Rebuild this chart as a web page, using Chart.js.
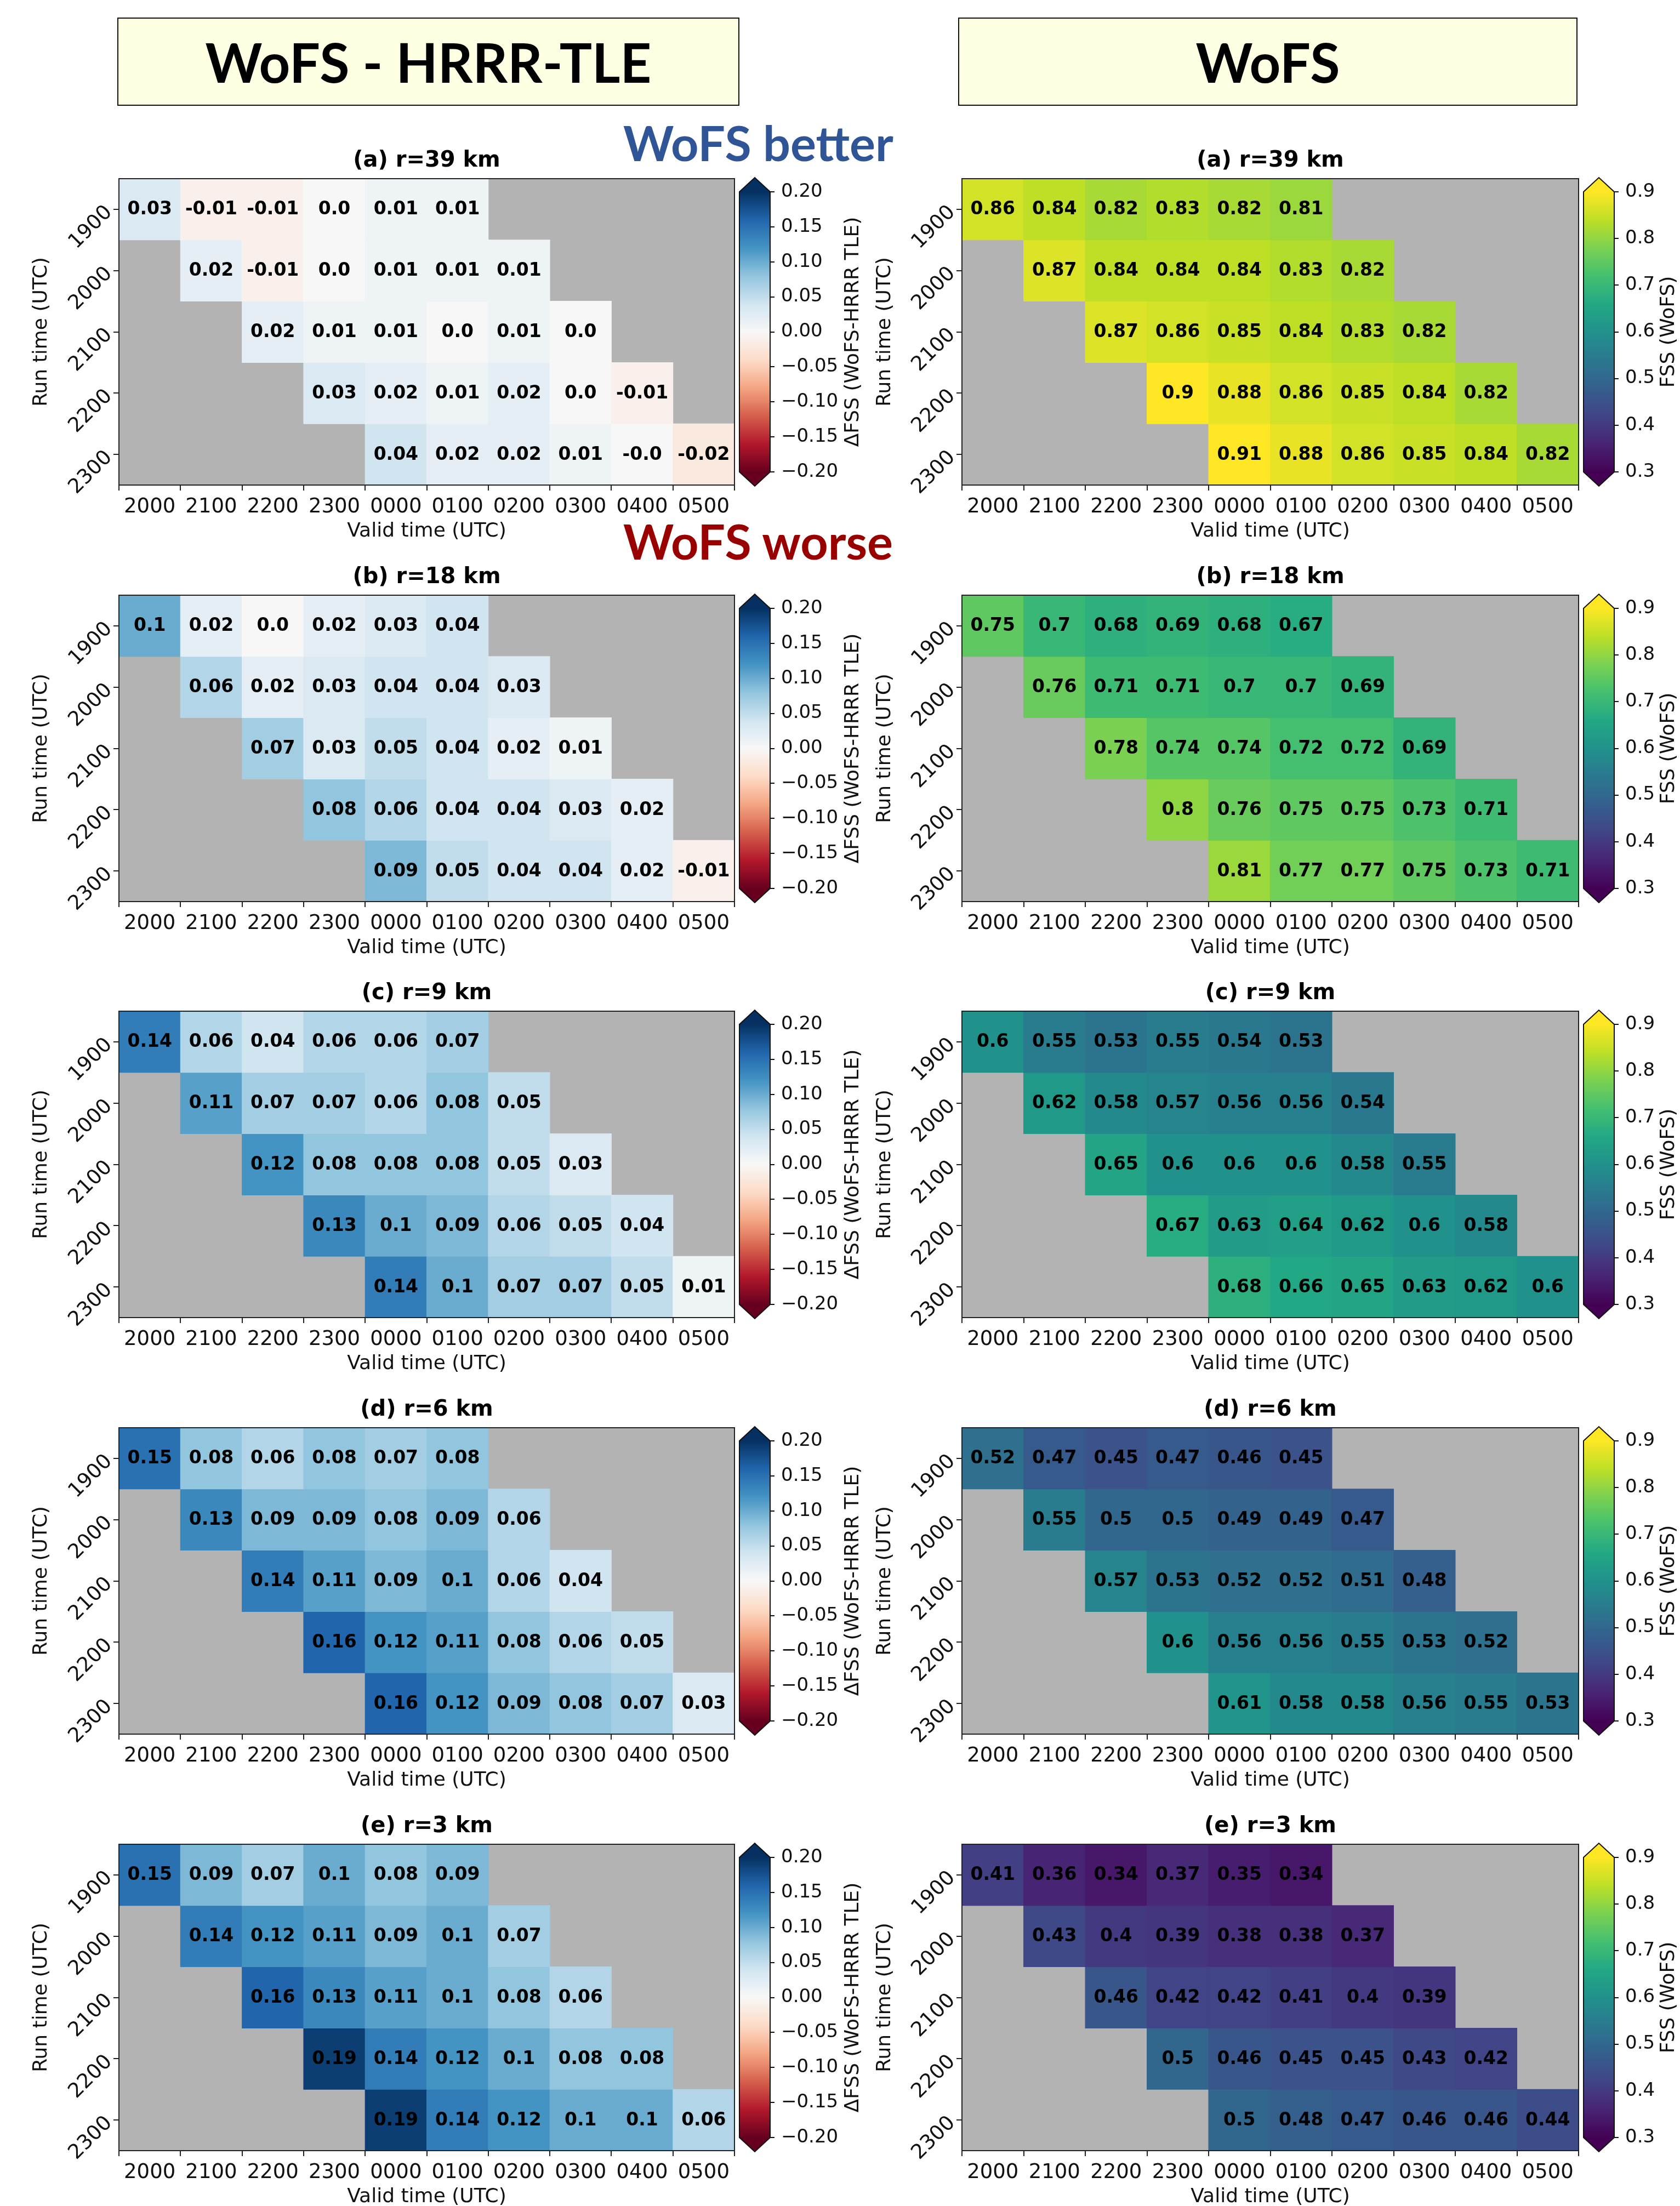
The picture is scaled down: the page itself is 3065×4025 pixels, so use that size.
<!DOCTYPE html>
<html>
<head>
<meta charset="utf-8">
<script src="https://cdn.jsdelivr.net/npm/chart.js@4.4.1/dist/chart.umd.min.js"></script>
<style>
	body { margin: 0; background: #fff; width: 3065px; height: 4025px; position: relative; overflow: hidden; }
	.header { position: absolute; top: 32px; height: 161px; box-sizing: border-box; border: 2px solid #111; background: #ffffe3;
		display: flex; align-items: center; justify-content: center; font-family: Lato, sans-serif; font-weight: bold; font-size: 99px; color: #000; }
	.note { position: absolute; font-family: Lato, sans-serif; font-weight: bold; font-size: 88px; line-height: 1; white-space: nowrap; }
	.holder { position: absolute; }
	.holder canvas { display: block; }
</style>
</head>
<body>
<div class="header" style="left:214px;width:1135px;">WoFS - HRRR-TLE</div>
<div class="header" style="left:1748px;width:1130px;">WoFS</div>
<div class="note" style="left:1137px;top:216px;color:#2f5597;">WoFS better</div>
<div class="note" style="left:1137px;top:943px;color:#990000;">WoFS worse</div>

<script>
var validTimes = ["2000", "2100", "2200", "2300", "0000", "0100", "0200", "0300", "0400", "0500"];
var runTimes = ["1900", "2000", "2100", "2200", "2300"];
var panelTitles = ["(a) r=39 km", "(b) r=18 km", "(c) r=9 km", "(d) r=6 km", "(e) r=3 km"];

// WoFS - HRRR-TLE, each run time row starts one valid time later
var dfss39 = [
	[0.03, -0.01, -0.01, 0.0, 0.01, 0.01],
	[0.02, -0.01, 0.0, 0.01, 0.01, 0.01],
	[0.02, 0.01, 0.01, 0.0, 0.01, 0.0],
	[0.03, 0.02, 0.01, 0.02, 0.0, -0.01],
	[0.04, 0.02, 0.02, 0.01, -0.0, -0.02]
];
var dfss18 = [
	[0.1, 0.02, 0.0, 0.02, 0.03, 0.04],
	[0.06, 0.02, 0.03, 0.04, 0.04, 0.03],
	[0.07, 0.03, 0.05, 0.04, 0.02, 0.01],
	[0.08, 0.06, 0.04, 0.04, 0.03, 0.02],
	[0.09, 0.05, 0.04, 0.04, 0.02, -0.01]
];
var dfss9 = [
	[0.14, 0.06, 0.04, 0.06, 0.06, 0.07],
	[0.11, 0.07, 0.07, 0.06, 0.08, 0.05],
	[0.12, 0.08, 0.08, 0.08, 0.05, 0.03],
	[0.13, 0.1, 0.09, 0.06, 0.05, 0.04],
	[0.14, 0.1, 0.07, 0.07, 0.05, 0.01]
];
var dfss6 = [
	[0.15, 0.08, 0.06, 0.08, 0.07, 0.08],
	[0.13, 0.09, 0.09, 0.08, 0.09, 0.06],
	[0.14, 0.11, 0.09, 0.1, 0.06, 0.04],
	[0.16, 0.12, 0.11, 0.08, 0.06, 0.05],
	[0.16, 0.12, 0.09, 0.08, 0.07, 0.03]
];
var dfss3 = [
	[0.15, 0.09, 0.07, 0.1, 0.08, 0.09],
	[0.14, 0.12, 0.11, 0.09, 0.1, 0.07],
	[0.16, 0.13, 0.11, 0.1, 0.08, 0.06],
	[0.19, 0.14, 0.12, 0.1, 0.08, 0.08],
	[0.19, 0.14, 0.12, 0.1, 0.1, 0.06]
];

// WoFS FSS
var fss39 = [
	[0.86, 0.84, 0.82, 0.83, 0.82, 0.81],
	[0.87, 0.84, 0.84, 0.84, 0.83, 0.82],
	[0.87, 0.86, 0.85, 0.84, 0.83, 0.82],
	[0.9, 0.88, 0.86, 0.85, 0.84, 0.82],
	[0.91, 0.88, 0.86, 0.85, 0.84, 0.82]
];
var fss18 = [
	[0.75, 0.7, 0.68, 0.69, 0.68, 0.67],
	[0.76, 0.71, 0.71, 0.7, 0.7, 0.69],
	[0.78, 0.74, 0.74, 0.72, 0.72, 0.69],
	[0.8, 0.76, 0.75, 0.75, 0.73, 0.71],
	[0.81, 0.77, 0.77, 0.75, 0.73, 0.71]
];
var fss9 = [
	[0.6, 0.55, 0.53, 0.55, 0.54, 0.53],
	[0.62, 0.58, 0.57, 0.56, 0.56, 0.54],
	[0.65, 0.6, 0.6, 0.6, 0.58, 0.55],
	[0.67, 0.63, 0.64, 0.62, 0.6, 0.58],
	[0.68, 0.66, 0.65, 0.63, 0.62, 0.6]
];
var fss6 = [
	[0.52, 0.47, 0.45, 0.47, 0.46, 0.45],
	[0.55, 0.5, 0.5, 0.49, 0.49, 0.47],
	[0.57, 0.53, 0.52, 0.52, 0.51, 0.48],
	[0.6, 0.56, 0.56, 0.55, 0.53, 0.52],
	[0.61, 0.58, 0.58, 0.56, 0.55, 0.53]
];
var fss3 = [
	[0.41, 0.36, 0.34, 0.37, 0.35, 0.34],
	[0.43, 0.4, 0.39, 0.38, 0.38, 0.37],
	[0.46, 0.42, 0.42, 0.41, 0.4, 0.39],
	[0.5, 0.46, 0.45, 0.45, 0.43, 0.42],
	[0.5, 0.48, 0.47, 0.46, 0.46, 0.44]
];

var dfssTicks = [-0.2, -0.15, -0.1, -0.05, 0, 0.05, 0.1, 0.15, 0.2];
var fssTicks = [0.3, 0.4, 0.5, 0.6, 0.7, 0.8, 0.9];

var dfssPanels = [dfss39, dfss18, dfss9, dfss6, dfss3];
var fssPanels = [fss39, fss18, fss9, fss6, fss3];

// colormaps (matplotlib RdBu and viridis anchor colours)
var rdbuStops = ["#67001f", "#b2182b", "#d6604d", "#f4a582", "#fddbc7", "#f7f7f7", "#d1e5f0", "#92c5de", "#4393c3", "#2166ac", "#053061"];
var viridisStops = ["#440154", "#482475", "#414487", "#355f8d", "#2a788e", "#21918c", "#22a884", "#44bf70", "#7ad151", "#bddf26", "#fde725"];

function hexRgb(h) {
	return [parseInt(h.substr(1, 2), 16), parseInt(h.substr(3, 2), 16), parseInt(h.substr(5, 2), 16)];
}
function makeCmap(stops) {
	var rgb = stops.map(hexRgb);
	return function (t) {
		t = Math.max(0, Math.min(1, t));
		var p = t * (rgb.length - 1);
		var i = Math.min(Math.floor(p), rgb.length - 2);
		var f = p - i;
		var c = [0, 1, 2].map(function (k) { return Math.round(rgb[i][k] + (rgb[i + 1][k] - rgb[i][k]) * f); });
		return "rgb(" + c.join(",") + ")";
	};
}
var rdbu = makeCmap(rdbuStops);
var viridis = makeCmap(viridisStops);

function fmt(v) {
	var s = String(Math.abs(v));
	if (s.indexOf(".") < 0) s += ".0";
	return (v < 0 || Object.is(v, -0) ? "-" : "") + s;
}

Chart.defaults.font.family = "'DejaVu Sans', sans-serif";
Chart.defaults.color = "#111";

var FONT_TICK = 37;
var FONT_LABEL = 36;
var FONT_CBAR = 34;

// draw gray background, cell numbers and the frame
var heatPlugin = {
	id: "heat",
	beforeDatasetsDraw: function (chart) {
		var a = chart.chartArea, ctx = chart.ctx;
		ctx.save();
		ctx.fillStyle = "#b3b3b3";
		ctx.fillRect(a.left, a.top, a.right - a.left, a.bottom - a.top);
		ctx.restore();
	},
	afterDatasetsDraw: function (chart) {
		var ctx = chart.ctx, a = chart.chartArea;
		ctx.save();
		ctx.font = "bold 33px 'DejaVu Sans'";
		ctx.fillStyle = "#000";
		ctx.textAlign = "center";
		ctx.textBaseline = "middle";
		chart.data.datasets.forEach(function (ds, i) {
			var meta = chart.getDatasetMeta(i);
			ds.cellValues.forEach(function (v, k) {
				var bar = meta.data[i + k];
				ctx.fillText(fmt(v), bar.x, (bar.y + bar.base) / 2 + 1);
			});
		});
		ctx.strokeStyle = "#222";
		ctx.lineWidth = 2;
		ctx.strokeRect(a.left, a.top, a.right - a.left, a.bottom - a.top);
		ctx.restore();
	}
};

function heatmap(canvas, rows, title, cmap, vmin, vmax, yWidth, yTitlePad) {
	var datasets = rows.map(function (vals, i) {
		var data = validTimes.map(function () { return null; });
		var colors = validTimes.map(function () { return "rgba(0,0,0,0)"; });
		vals.forEach(function (v, k) {
			data[i + k] = [i - 0.5, i + 0.5];
			colors[i + k] = cmap((v - vmin) / (vmax - vmin));
		});
		return { label: runTimes[i], data: data, backgroundColor: colors, cellValues: vals };
	});
	return new Chart(canvas, {
		type: "bar",
		data: { labels: validTimes, datasets: datasets },
		options: {
			responsive: false,
			animation: false,
			devicePixelRatio: 1,
			layout: { padding: { left: 0, right: 5, top: 24, bottom: 0 } },
			datasets: { bar: { barPercentage: 1, categoryPercentage: 1, grouped: false, borderWidth: 0, inflateAmount: 0.5 } },
			plugins: {
				legend: { display: false },
				tooltip: { enabled: false },
				title: {
					display: true, text: title, fullSize: false, color: "#000",
					font: { size: 40, weight: "bold" }, padding: { top: 0, bottom: 8 }
				}
			},
			scales: {
				x: {
					grid: { drawOnChartArea: false, drawTicks: true, tickLength: 10, color: "#222", lineWidth: 2 },
					border: { display: false },
					ticks: { font: { size: FONT_TICK }, padding: 8, maxRotation: 0, minRotation: 0, autoSkip: false },
					title: { display: true, text: "Valid time (UTC)", font: { size: FONT_LABEL }, padding: { top: 0, bottom: 4 } },
					afterFit: function (s) { s.height = 110; }
				},
				y: {
					min: -0.5, max: 4.5, reverse: true,
					afterBuildTicks: function (s) { s.ticks = runTimes.map(function (r, i) { return { value: i }; }); },
					grid: { drawOnChartArea: false, drawTicks: true, tickLength: 10, color: "#222", lineWidth: 2 },
					border: { display: false },
					ticks: {
						font: { size: FONT_TICK }, padding: 8, minRotation: 45, maxRotation: 45,
						callback: function (v) { return runTimes[v]; }
					},
					title: { display: true, text: "Run time (UTC)", font: { size: FONT_LABEL }, padding: { top: yTitlePad, bottom: 0 } },
					afterFit: function (s) { s.width = yWidth; }
				}
			}
		},
		plugins: [heatPlugin]
	});
}

// colorbar with extension triangles and rotated label
function colorbar(canvas, cmap, ticks, digits, label, labelX, yWidth) {
	var tri = 26;
	var cbPlugin = {
		id: "cbar",
		beforeDatasetsDraw: function (chart) {
			var a = chart.chartArea, ctx = chart.ctx;
			var ys = chart.scales.y;
			var cx = (a.left + a.right) / 2;
			var g = ctx.createLinearGradient(0, ys.getPixelForValue(ys.min), 0, ys.getPixelForValue(ys.max));
			for (var k = 0; k <= 40; k++) g.addColorStop(k / 40, cmap(k / 40));
			ctx.save();
			ctx.fillStyle = g;
			ctx.fillRect(a.left, a.top, a.right - a.left, a.bottom - a.top);
			ctx.fillStyle = cmap(1);
			ctx.beginPath();
			ctx.moveTo(a.left, a.top); ctx.lineTo(cx, a.top - tri); ctx.lineTo(a.right, a.top);
			ctx.closePath(); ctx.fill();
			ctx.fillStyle = cmap(0);
			ctx.beginPath();
			ctx.moveTo(a.left, a.bottom); ctx.lineTo(cx, a.bottom + tri); ctx.lineTo(a.right, a.bottom);
			ctx.closePath(); ctx.fill();
			ctx.strokeStyle = "#111";
			ctx.lineWidth = 2;
			ctx.beginPath();
			ctx.moveTo(a.left, a.top); ctx.lineTo(cx, a.top - tri); ctx.lineTo(a.right, a.top);
			ctx.lineTo(a.right, a.bottom); ctx.lineTo(cx, a.bottom + tri); ctx.lineTo(a.left, a.bottom);
			ctx.closePath(); ctx.stroke();
			ctx.restore();
		},
		afterDraw: function (chart) {
			var a = chart.chartArea, ctx = chart.ctx;
			ctx.save();
			ctx.translate(labelX, (a.top + a.bottom) / 2);
			ctx.rotate(-Math.PI / 2);
			ctx.font = FONT_LABEL + "px 'DejaVu Sans'";
			ctx.fillStyle = "#111";
			ctx.textAlign = "center";
			ctx.textBaseline = "middle";
			ctx.fillText(label, 0, 0);
			ctx.restore();
		}
	};
	return new Chart(canvas, {
		type: "scatter",
		data: { datasets: [] },
		options: {
			responsive: false,
			animation: false,
			devicePixelRatio: 1,
			layout: { padding: { left: 9, right: 0, top: 64, bottom: 64 } },
			plugins: { legend: { display: false }, tooltip: { enabled: false } },
			scales: {
				x: { display: false, min: 0, max: 1 },
				y: {
					position: "right",
					min: ticks[0], max: ticks[ticks.length - 1],
					afterBuildTicks: function (s) { s.ticks = ticks.map(function (v) { return { value: v }; }); },
					grid: { drawOnChartArea: false, drawTicks: true, tickLength: 8, color: "#111", lineWidth: 2 },
					border: { display: false },
					ticks: {
						font: { size: FONT_CBAR }, padding: 12,
						callback: function (v) { return (v < -1e-9 ? "\u2212" : "") + Math.abs(v).toFixed(digits); }
					},
					afterFit: function (s) { s.width = yWidth; }
				}
			}
		},
		plugins: [cbPlugin]
	});
}

function addCanvas(left, top, w, h) {
	var div = document.createElement("div");
	div.className = "holder";
	div.style.left = left + "px";
	div.style.top = top + "px";
	var c = document.createElement("canvas");
	c.width = w;
	c.height = h;
	c.style.width = w + "px";
	c.style.height = h + "px";
	div.appendChild(c);
	document.body.appendChild(div);
	return c;
}

for (var r = 0; r < 5; r++) {
	var plotTop = Math.round(326 + r * 759.7);
	// left column: difference
	heatmap(addCanvas(0, plotTop - 80, 1345, 749), dfssPanels[r], panelTitles[r], rdbu, -0.2, 0.2, 217, 54);
	colorbar(addCanvas(1340, plotTop - 40, 300, 639), rdbu, dfssTicks, 2, "\u0394FSS (WoFS-HRRR TLE)", 217, 235);
	// right column: WoFS
	heatmap(addCanvas(1560, plotTop - 80, 1325, 749), fssPanels[r], panelTitles[r], viridis, 0.3, 0.9, 195, 33);
	colorbar(addCanvas(2880, plotTop - 40, 185, 639), viridis, fssTicks, 1, "FSS (WoFS)", 165, 120);
}
</script>
</body>
</html>
